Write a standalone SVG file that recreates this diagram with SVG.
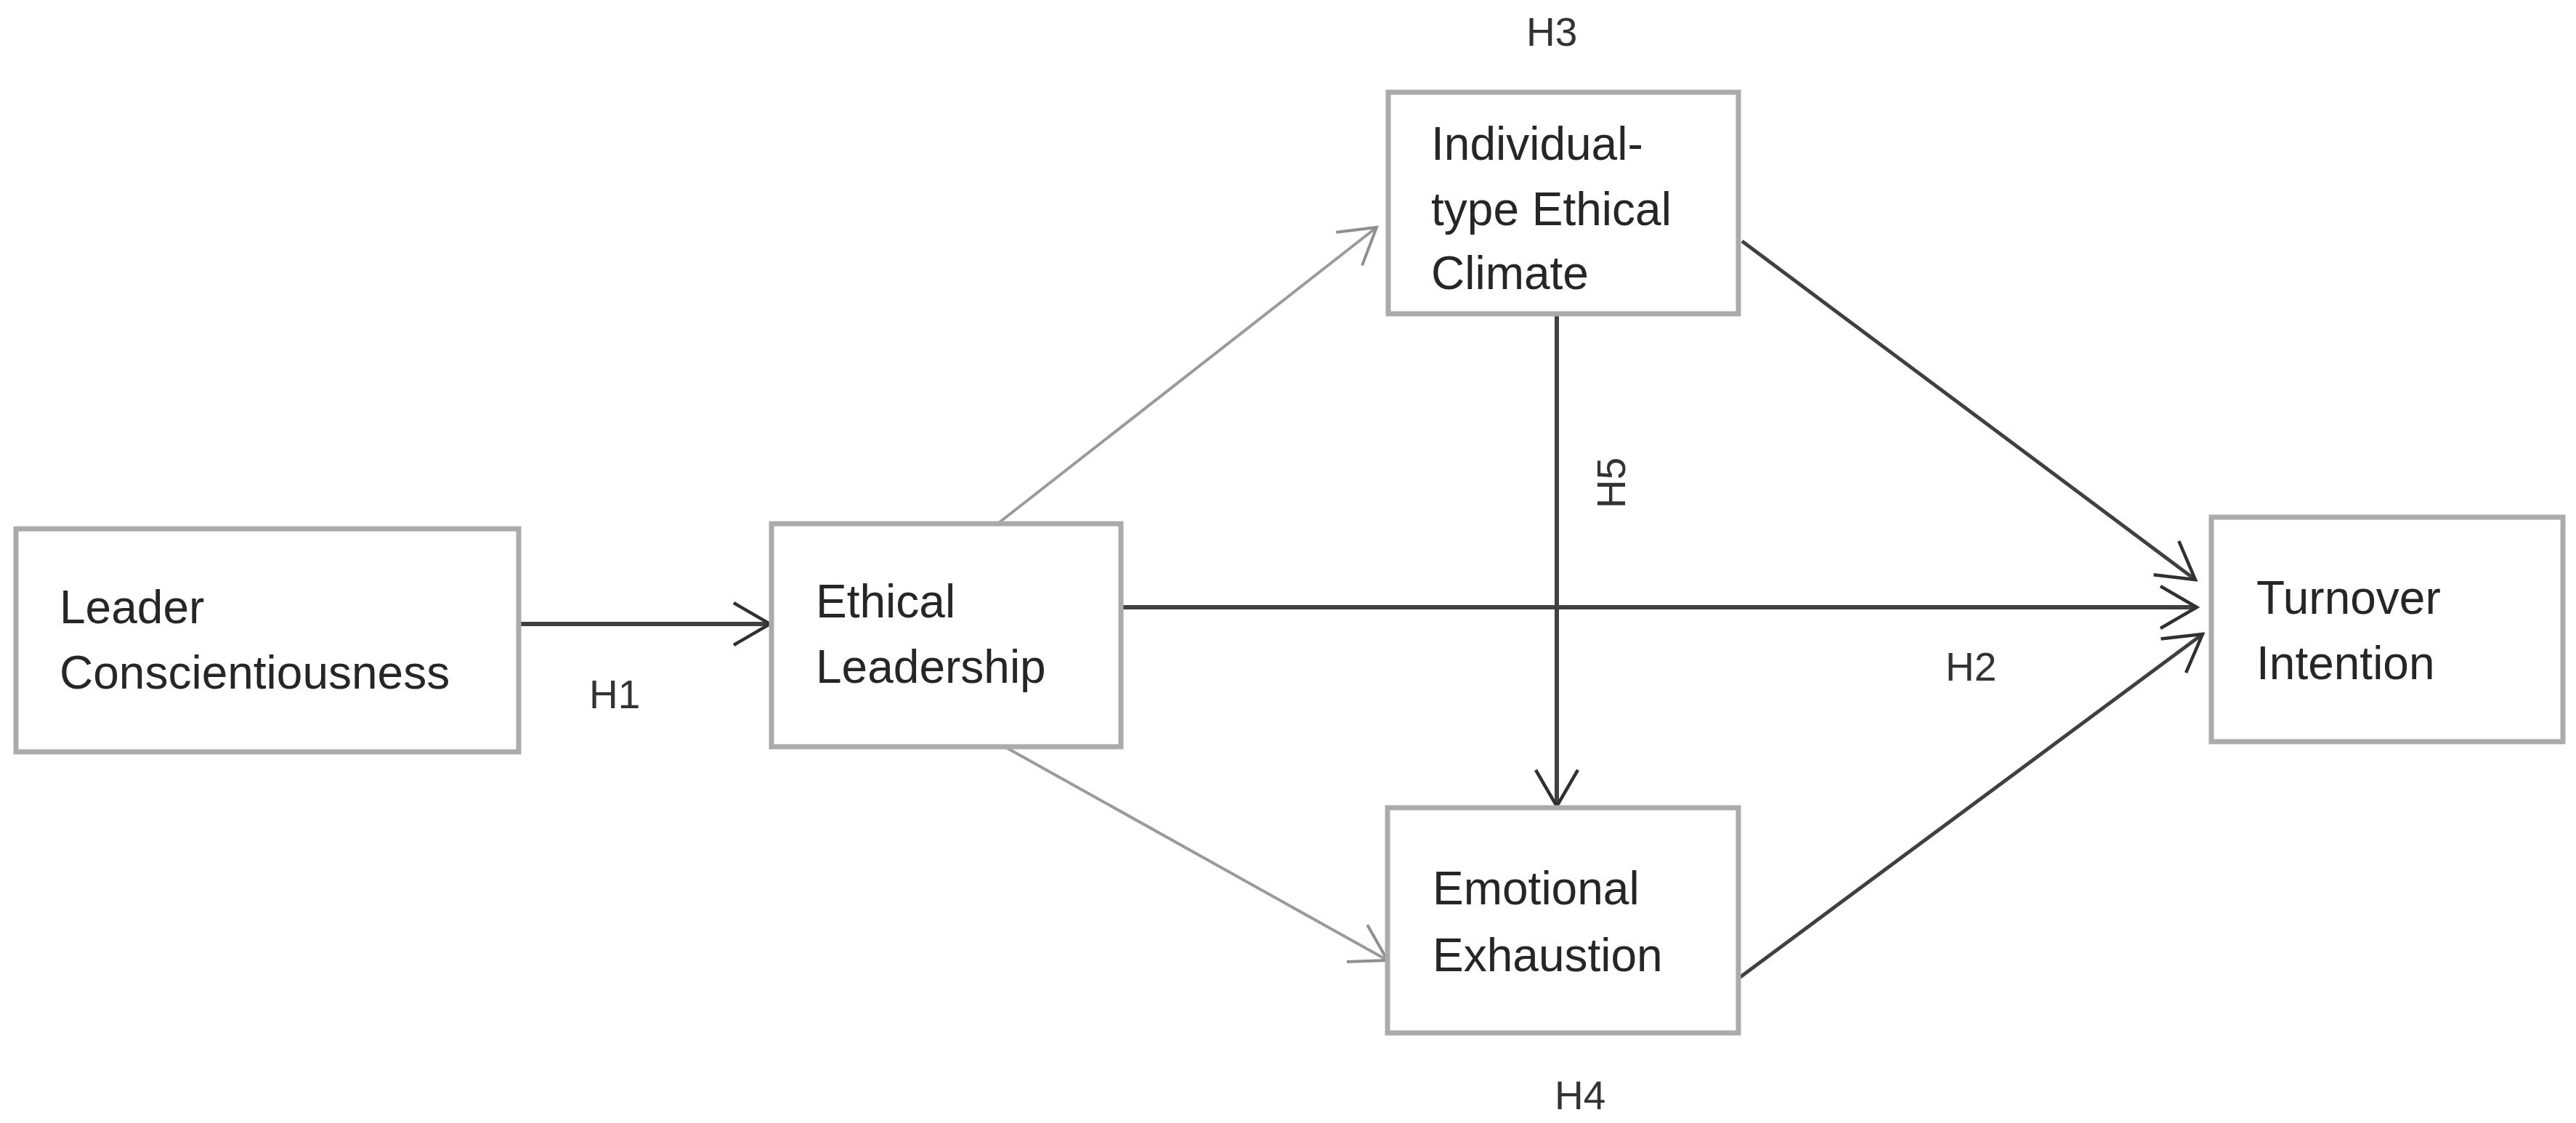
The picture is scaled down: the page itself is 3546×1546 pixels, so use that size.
<svg xmlns="http://www.w3.org/2000/svg" width="3546" height="1546" viewBox="0 0 3546 1546">
<style>
.box{fill:#ffffff;stroke:#ababab;stroke-width:7}
.txt{font-family:"Liberation Sans",Arial,sans-serif;font-size:64px;fill:#262626}
.lbl{font-family:"Liberation Sans",Arial,sans-serif;font-size:55px;fill:#333333}
.dark{stroke:#404040;fill:none;stroke-width:6}
.dark5{stroke:#404040;fill:none;stroke-width:5}
.light{stroke:#9a9a9a;fill:none;stroke-width:4}
</style>
<defs>
<marker id="ad" markerUnits="userSpaceOnUse" viewBox="-54 -34 58 68" markerWidth="58" markerHeight="68" refX="0" refY="0" orient="auto">
<path d="M-50,-29 L0,0 L-50,29" fill="none" stroke="#303030" stroke-width="4.5"/>
</marker>
<marker id="al" markerUnits="userSpaceOnUse" viewBox="-54 -34 58 68" markerWidth="58" markerHeight="68" refX="0" refY="0" orient="auto">
<path d="M-48,-29 L0,0 L-48,29" fill="none" stroke="#8f8f8f" stroke-width="4"/>
</marker>
</defs>
<rect width="3546" height="1546" fill="#ffffff"/>
<g id="connectors">
<line class="dark" x1="714" y1="859" x2="1060" y2="859" marker-end="url(#ad)"/>
<line class="dark" x1="1543" y1="836" x2="3024" y2="836" marker-end="url(#ad)"/>
<line class="light" x1="1372" y1="722" x2="1895" y2="313" marker-end="url(#al)"/>
<line class="light" x1="1383" y1="1028" x2="1910" y2="1322" marker-end="url(#al)"/>
<line class="dark" x1="2143" y1="432" x2="2143" y2="1110" marker-end="url(#ad)"/>
<line class="dark5" x1="2398" y1="332" x2="3022" y2="798" marker-end="url(#ad)"/>
<line class="dark5" x1="2393" y1="1347" x2="3032" y2="873" marker-end="url(#ad)"/>
</g>
<g id="leader">
<rect class="box" x="22" y="728" width="692" height="307"/>
<text class="txt" x="82" y="858">Leader</text>
<text class="txt" x="82" y="948">Conscientiousness</text>
</g>
<g id="ethical">
<rect class="box" x="1062" y="721" width="481" height="307"/>
<text class="txt" x="1123" y="850">Ethical</text>
<text class="txt" x="1123" y="940">Leadership</text>
</g>
<g id="climate">
<rect class="box" x="1911" y="127" width="482" height="305"/>
<text class="txt" x="1970" y="220">Individual-</text>
<text class="txt" x="1970" y="310">type Ethical</text>
<text class="txt" x="1970" y="398">Climate</text>
</g>
<g id="exhaustion">
<rect class="box" x="1910" y="1112" width="483" height="310"/>
<text class="txt" x="1972" y="1245">Emotional</text>
<text class="txt" x="1972" y="1337">Exhaustion</text>
</g>
<g id="turnover">
<rect class="box" x="3044" y="712" width="484" height="309"/>
<text class="txt" x="3106" y="845">Turnover</text>
<text class="txt" x="3106" y="935">Intention</text>
</g>
<g id="labels">
<text class="lbl" x="811" y="975">H1</text>
<text class="lbl" x="2678" y="937">H2</text>
<text class="lbl" x="2101" y="63">H3</text>
<text class="lbl" x="2140" y="1527">H4</text>
<text class="lbl" transform="translate(2237,700) rotate(-90)">H5</text>
</g>
</svg>
